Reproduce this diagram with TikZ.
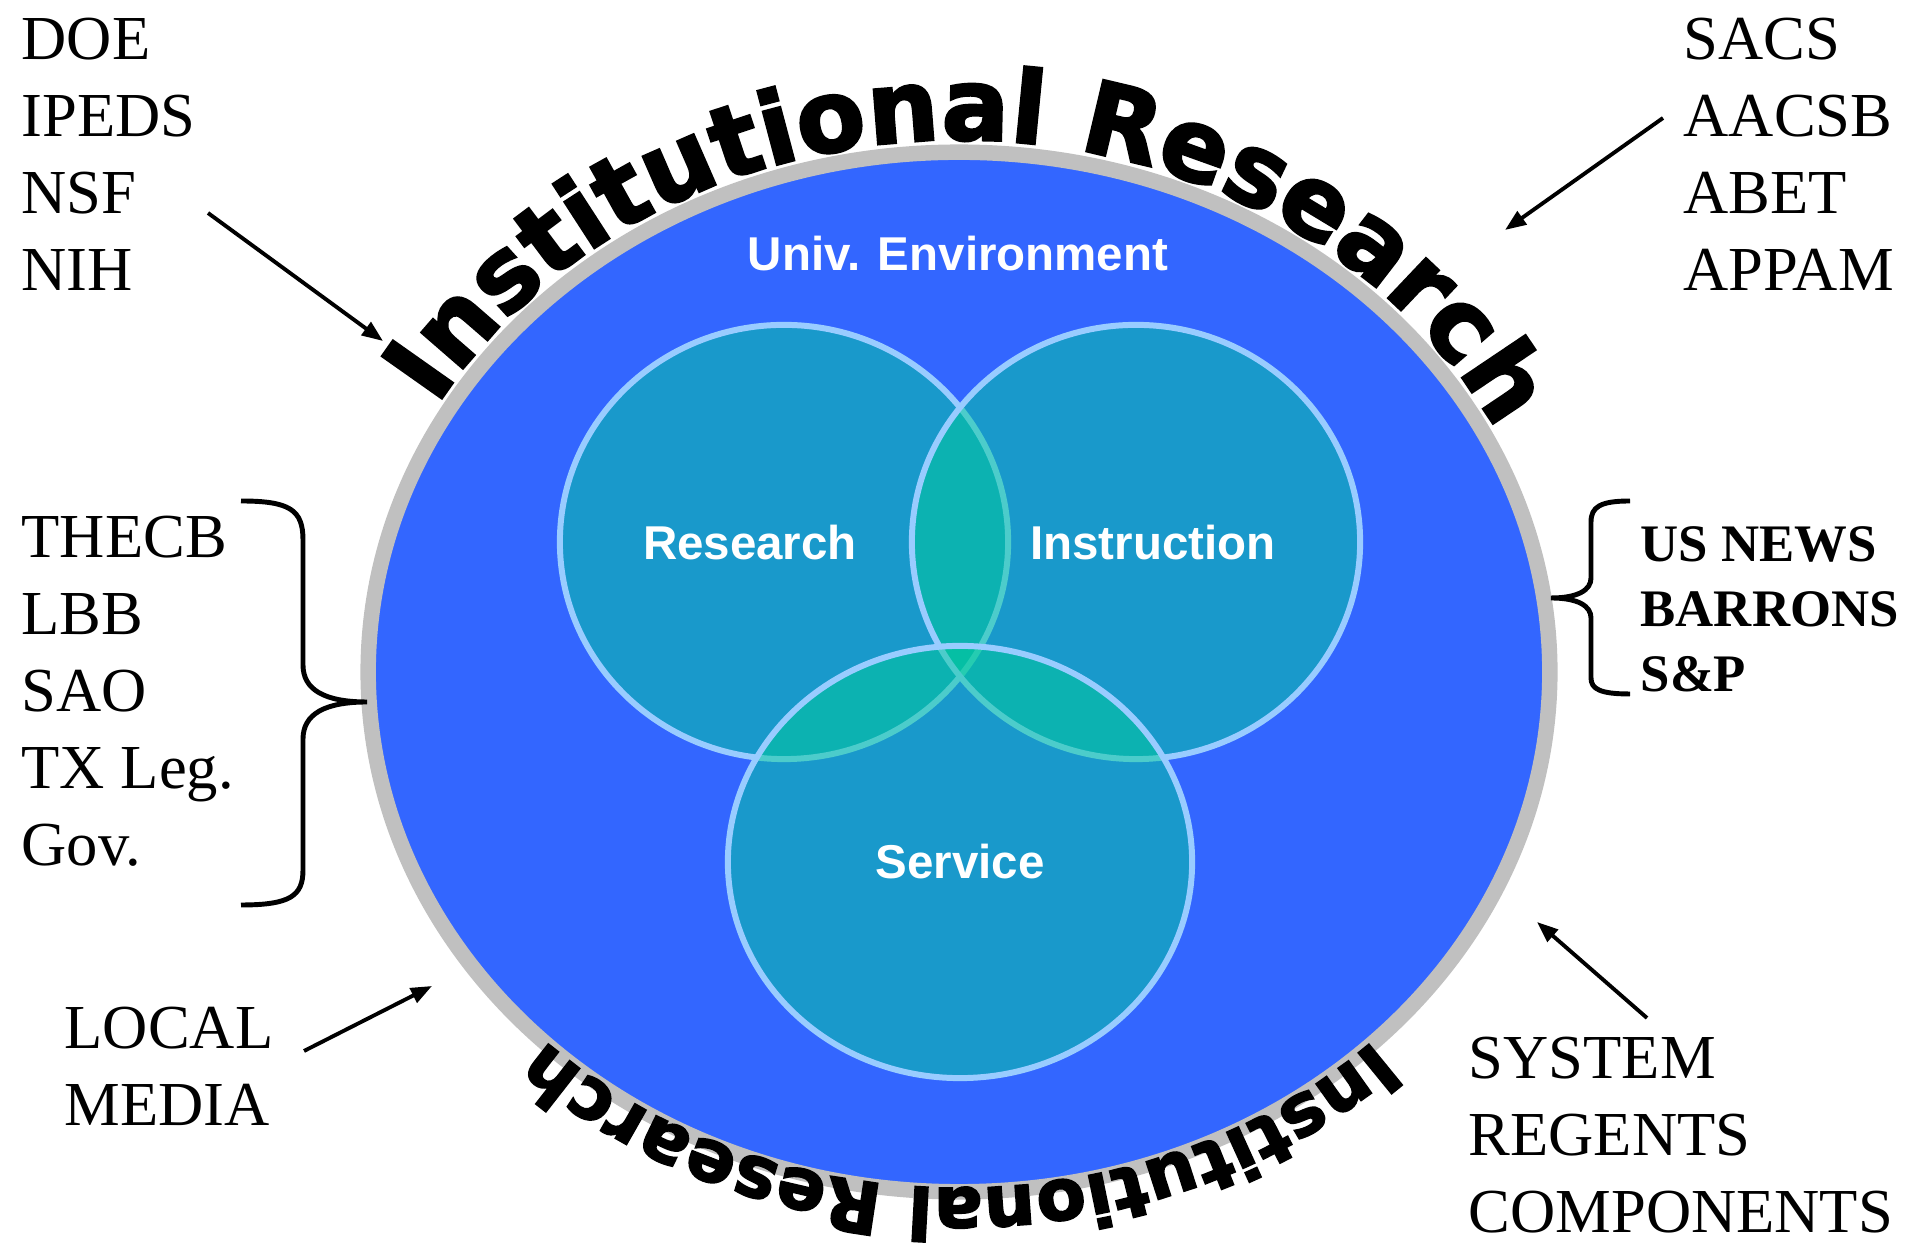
\documentclass[tikz,border=0pt]{standalone}
\usepackage{fontspec}
\setmainfont{Liberation Serif}
\newfontfamily\arialfont{Liberation Sans}
\newfontfamily\blackfont{DejaVu Sans Bold}[FakeBold=2.5]
\usetikzlibrary{shapes.geometric,decorations.text,arrows.meta}
\definecolor{envblue}{HTML}{3366FF}
\definecolor{ringgray}{HTML}{C0C0C0}
\definecolor{venngreen}{HTML}{00CC99}
\definecolor{vennline}{HTML}{99CCFF}
\tikzset{
  venn/.style={ellipse, inner sep=0pt, fill=venngreen, fill opacity=0.5, draw=vennline, line width=1.7pt},
  inlabel/.style={anchor=base, text=white, font=\arialfont\bfseries\fontsize{13.5}{16}\selectfont},
  outlist/.style={anchor=base west, align=left, inner sep=0pt, font=\fontsize{17.8}{21.9}\selectfont},
  ranklist/.style={outlist, font=\bfseries\fontsize{15}{18.5}\selectfont},
  arr/.style={line width=1.1pt, -{Triangle[length=6pt,width=4.5pt]}},
  brace/.style={line width=1.4pt},
}
\begin{document}
\begin{tikzpicture}[x=0.01cm, y=0.01cm]
\useasboundingbox (0,0) rectangle (1921,1255);
\node[ellipse, draw=ringgray, fill=envblue, line width=4.4pt, minimum width=11.81cm, minimum height=10.39cm, inner sep=0pt] (env) at (959,583) {};
\node[venn, minimum width=4.48cm, minimum height=4.34cm] (res) at (784,713) {};
\node[venn, minimum width=4.48cm, minimum height=4.34cm] (ins) at (1136,713) {};
\node[venn, minimum width=4.64cm, minimum height=4.32cm] (srv) at (960,393) {};
\node[inlabel] (univ) at (958,984) {Univ. Environment};
\node[inlabel] (restext) at (750,695) {Research};
\node[inlabel] (instext) at (1153,695) {Instruction};
\node[inlabel] (srvtext) at (960,376) {Service};
\path[decorate, decoration={text along path, text align=fit to path, text={|\blackfont\fontsize{28.5}{28.5}\selectfont|Institutional Research}}] (env.center) ++(150:603 and 532) arc[start angle=150, end angle=29.5, x radius=603, y radius=532];
\path[decorate, decoration={text along path, text align=fit to path, text={|\blackfont\fontsize{20.5}{20.5}\selectfont|Institutional Research}}] (env.center) ++(-45.5:592 and 516) arc[start angle=-45.5, end angle=-134, x radius=592, y radius=516];
\node[outlist] (fed) at (21,964) {DOE\\IPEDS\\NSF\\NIH};
\node[outlist] (state) at (21,389) {THECB\\LBB\\SAO\\TX Leg.\\Gov.};
\node[outlist] (accred) at (1683,964) {SACS\\AACSB\\ABET\\APPAM};
\node[ranklist] (rank) at (1640,563) {US NEWS\\BARRONS\\S\&P};
\node[outlist] (media) at (64,129) {LOCAL\\MEDIA};
\node[outlist] (system) at (1468,22) {SYSTEM\\REGENTS\\COMPONENTS};
\coordinate (fedfrom) at (208,1042);
\coordinate (fedto) at (383,914);
\coordinate (accfrom) at (1663,1137);
\coordinate (accto) at (1505,1025);
\coordinate (medfrom) at (304,204);
\coordinate (medto) at (432,269);
\coordinate (sysfrom) at (1647,237);
\coordinate (systo) at (1537,333);
\draw[arr] (fedfrom) -- (fedto);
\draw[arr] (accfrom) -- (accto);
\draw[arr] (medfrom) -- (medto);
\draw[arr] (sysfrom) -- (systo);
\draw[brace] (241,754) .. controls (290,754) and (303,745) .. (303,715) -- (303,590) .. controls (303,565) and (325,553) .. (367,553) .. controls (325,553) and (303,541) .. (303,516) -- (303,385) .. controls (303,359) and (290,350) .. (241,350);
\draw[brace] (1630,754) .. controls (1600,754) and (1591,748) .. (1591,733) -- (1591,677) .. controls (1591,665) and (1578,657) .. (1551,657) .. controls (1578,657) and (1591,649) .. (1591,637) -- (1591,577) .. controls (1591,566) and (1600,561) .. (1630,561);
\end{tikzpicture}
\end{document}
